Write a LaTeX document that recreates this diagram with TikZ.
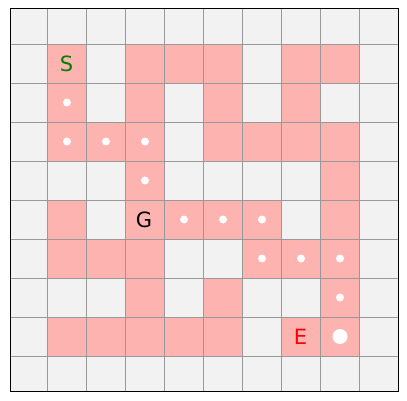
\documentclass[tikz,border=0pt]{standalone}
\usepackage{fontspec}
\setmainfont{DejaVu Sans}
\definecolor{cellgray}{RGB}{242,242,242}
\definecolor{cellpink}{RGB}{253,180,176}
\definecolor{gridline}{RGB}{153,153,153}
\definecolor{sgreen}{RGB}{0,128,0}
\definecolor{ered}{RGB}{255,0,0}
\tikzset{
  pinkcell/.style={fill=cellpink, draw=none},
  gridln/.style={draw=gridline, line width=0.9pt},
  pathdot/.style={circle, fill=white, draw=none, inner sep=0pt, minimum size=8pt},
  bigdot/.style={circle, fill=white, draw=none, inner sep=0pt, minimum size=15pt},
  lbl/.style={font=\fontsize{21}{25}\selectfont, inner sep=0pt}
}
\newcommand{\cx}[1]{47.5+39*#1-39+19.5}
\begin{document}
\begin{tikzpicture}[x=1pt,y=-1pt]
\useasboundingbox (0,0) rectangle (407,401);
\fill[cellgray] (10,9) rectangle (398,391);
% pink cells: row/col
\foreach \r/\c in {1/1,1/3,1/4,1/5,1/7,1/8,
                   2/1,2/3,2/5,2/7,
                   3/1,3/2,3/3,3/5,3/6,3/7,3/8,
                   4/3,4/8,
                   5/1,5/3,5/4,5/5,5/6,5/8,
                   6/1,6/2,6/3,6/6,6/7,6/8,
                   7/3,7/5,7/8,
                   8/1,8/2,8/3,8/4,8/5,8/7,8/8}{
  \fill[pinkcell] ({47.5+39*(\c-1)},{44+39*(\r-1)}) rectangle ++(39,39);
}
% grid lines
\foreach \k in {0,...,8}{
  \draw[gridln] ({47.5+39*\k},9) -- ({47.5+39*\k},391);
  \draw[gridln] (10,{44+39*\k}) -- (398,{44+39*\k});
}
\draw[black, line width=1pt] (10,9) rectangle (398,391);
% path dots
\foreach \r/\c [count=\i] in {2/1,3/1,3/2,3/3,4/3,5/4,5/5,5/6,6/6,6/7,6/8,7/8}{
  \node[pathdot] (d\i) at ({47.5+39*(\c-1)+19.5},{44+39*(\r-1)+19.5}) {};
}
\node[bigdot] (goaldot) at ({47.5+39*7+19.5},{44+39*7+19.5}) {};
% labels
\node[lbl, text=sgreen] (S) at ({47.5+19},{44+20}) {S};
\node[lbl, text=black] (G) at ({47.5+39*2+18.5},{44+39*4+20}) {G};
\node[lbl, text=ered] (E) at ({47.5+39*6+19},{44+39*7+20}) {E};
\end{tikzpicture}
\end{document}
